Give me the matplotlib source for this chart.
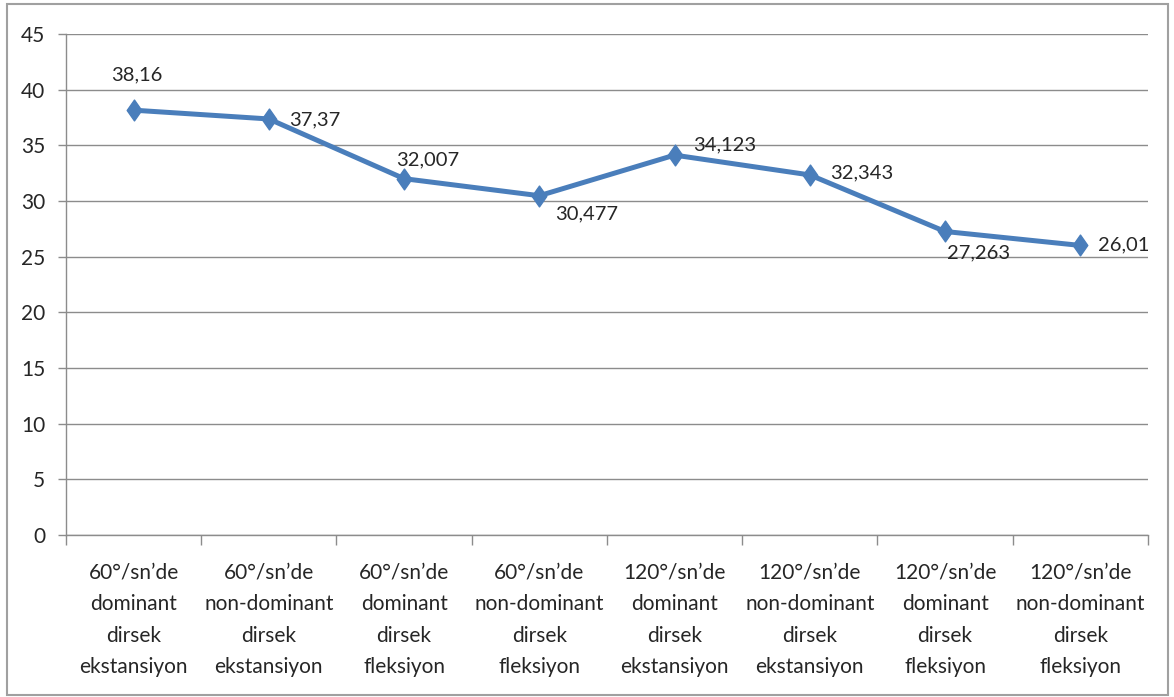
import numpy as np
import matplotlib.pyplot as plt
from matplotlib.path import Path
from matplotlib.patches import Rectangle

plt.rcParams['font.family'] = ['Lato', 'DejaVu Sans']

categories = [
    "60°/sn’de\ndominant\ndirsek\nekstansiyon",
    "60°/sn’de\nnon-dominant\ndirsek\nekstansiyon",
    "60°/sn’de\ndominant\ndirsek\nfleksiyon",
    "60°/sn’de\nnon-dominant\ndirsek\nfleksiyon",
    "120°/sn’de\ndominant\ndirsek\nekstansiyon",
    "120°/sn’de\nnon-dominant\ndirsek\nekstansiyon",
    "120°/sn’de\ndominant\ndirsek\nfleksiyon",
    "120°/sn’de\nnon-dominant\ndirsek\nfleksiyon",
]
values = [38.16, 37.37, 32.007, 30.477, 34.123, 32.343, 27.263, 26.01]
value_labels = ["38,16", "37,37", "32,007", "30,477", "34,123", "32,343", "27,263", "26,01"]
yticks = [0, 5, 10, 15, 20, 25, 30, 35, 40, 45]

# label offsets in pixels (dx, dy) and horizontal alignment
label_pos = [(3, 35, 'center'), (20, -1, 'left'), (-8, 19, 'left'), (16, -18, 'left'),
             (19, 10, 'left'), (20, 2, 'left'), (2, -21, 'left'), (18, 1, 'left')]

line_col = '#4A7EBB'
grid_col = '#8C8C8C'
text_col = '#262626'

# slightly tall diamond like the spreadsheet marker
diamond = Path([(0, 1), (0.7, 0), (0, -1), (-0.7, 0), (0, 1)],
               [Path.MOVETO, Path.LINETO, Path.LINETO, Path.LINETO, Path.CLOSEPOLY])

fig = plt.figure(figsize=(11.74, 6.97), dpi=100)
fig.patches.append(Rectangle((0.006, 0.003), 0.989, 0.991, transform=fig.transFigure,
                             fill=False, edgecolor='#A0A0A0', linewidth=1.5))
ax = fig.add_axes([0.0562, 0.2324, 0.9216, 0.7188])

x = np.arange(len(values))
ax.plot(x, values, color=line_col, linewidth=3.6, marker=diamond, markersize=15,
        markerfacecolor=line_col, markeredgecolor=line_col, zorder=3)

for xi, v, lab, (dx, dy, ha) in zip(x, values, value_labels, label_pos):
    ax.annotate(lab, (xi, v), xytext=(dx, dy), textcoords='offset pixels',
                ha=ha, va='center', fontsize=14.5, color=text_col)

ax.set_xlim(-0.5, len(values) - 0.5)
ax.set_ylim(0, 45)
ax.set_yticks(yticks)
ax.set_yticklabels([str(t) for t in yticks], fontsize=15, color=text_col)
ax.yaxis.grid(True, color=grid_col, linewidth=1)
ax.set_axisbelow(True)

ax.set_xticks(x)
ax.set_xticklabels(categories, fontsize=15, color=text_col, linespacing=1.72)
ax.set_xticks(np.arange(-0.5, len(values)), minor=True)
ax.tick_params(axis='x', which='major', length=0, pad=20)
ax.tick_params(axis='x', which='minor', length=7, color=grid_col, width=1)
ax.tick_params(axis='y', length=6, color=grid_col, width=1, pad=9)

for side in ['top', 'right']:
    ax.spines[side].set_visible(False)
for side in ['left', 'bottom']:
    ax.spines[side].set_color(grid_col)
    ax.spines[side].set_linewidth(1)

fig.savefig('out.png', dpi=100, facecolor='white')
